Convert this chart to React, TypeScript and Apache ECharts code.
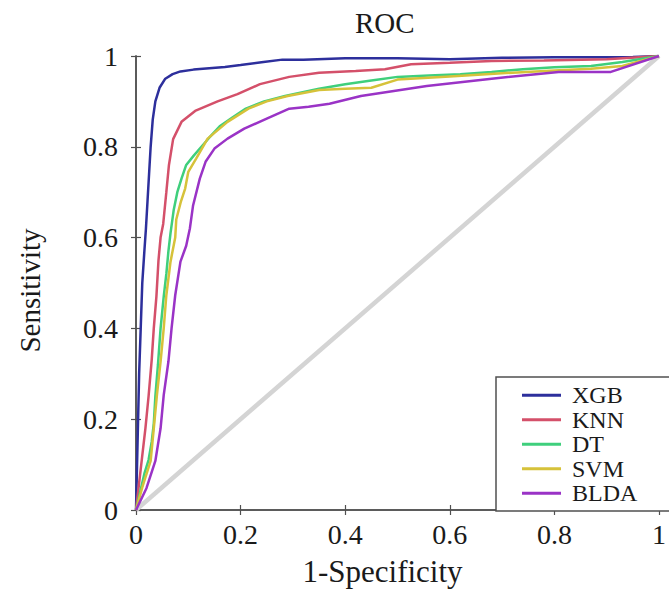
import React, { useEffect, useRef } from "react";
import * as echarts from "echarts";

const seriesNames = ["XGB", "KNN", "DT", "SVM", "BLDA"];
const seriesColors = ["#2d2f9c", "#d4506a", "#3fcf7c", "#d6c23a", "#9a33c6"];

const xgbX = [0, 0.002, 0.004, 0.006, 0.009, 0.012, 0.016, 0.019, 0.022, 0.025, 0.028, 0.032, 0.037, 0.045, 0.056, 0.07, 0.085, 0.11, 0.14, 0.17, 0.2, 0.24, 0.28, 0.32, 0.4, 0.5, 0.6, 0.7, 0.8, 0.9, 0.95, 1];
const xgbY = [0, 0.1, 0.2, 0.3, 0.4, 0.5, 0.57, 0.62, 0.68, 0.74, 0.8, 0.86, 0.9, 0.93, 0.95, 0.96, 0.966, 0.97, 0.973, 0.976, 0.98, 0.986, 0.992, 0.992, 0.995, 0.995, 0.993, 0.996, 0.997, 0.997, 0.998, 1];

const knnX = [0, 0.005, 0.011, 0.018, 0.024, 0.03, 0.034, 0.039, 0.043, 0.047, 0.052, 0.058, 0.063, 0.071, 0.087, 0.113, 0.156, 0.194, 0.237, 0.293, 0.35, 0.42, 0.476, 0.526, 0.6, 0.68, 0.78, 0.9, 1];
const knnY = [0, 0.05, 0.11, 0.18, 0.25, 0.33, 0.4, 0.47, 0.55, 0.6, 0.63, 0.7, 0.76, 0.817, 0.855, 0.879, 0.9, 0.916, 0.938, 0.954, 0.963, 0.967, 0.971, 0.982, 0.985, 0.989, 0.99, 0.993, 1];

const dtX = [0, 0.008, 0.016, 0.024, 0.03, 0.034, 0.037, 0.042, 0.047, 0.053, 0.058, 0.062, 0.066, 0.072, 0.079, 0.087, 0.096, 0.11, 0.125, 0.14, 0.16, 0.185, 0.21, 0.245, 0.285, 0.35, 0.4, 0.45, 0.5, 0.56, 0.62, 0.68, 0.74, 0.8, 0.87, 0.93, 1];
const dtY = [0, 0.04, 0.08, 0.11, 0.15, 0.19, 0.25, 0.32, 0.4, 0.47, 0.52, 0.57, 0.61, 0.66, 0.7, 0.73, 0.76, 0.78, 0.8, 0.82, 0.845, 0.865, 0.884, 0.9, 0.912, 0.928, 0.938, 0.946, 0.954, 0.957, 0.96, 0.965, 0.971, 0.975, 0.978, 0.987, 1];

const svmX = [0, 0.012, 0.028, 0.034, 0.04, 0.047, 0.053, 0.058, 0.066, 0.075, 0.077, 0.086, 0.094, 0.1, 0.115, 0.137, 0.175, 0.215, 0.25, 0.29, 0.35, 0.4, 0.45, 0.5, 0.6, 0.7, 0.8, 0.87, 0.93, 1];
const svmY = [0, 0.05, 0.108, 0.18, 0.253, 0.327, 0.4, 0.473, 0.547, 0.6, 0.64, 0.68, 0.708, 0.745, 0.774, 0.818, 0.855, 0.884, 0.9, 0.912, 0.925, 0.928, 0.93, 0.948, 0.955, 0.962, 0.968, 0.972, 0.978, 1];

const bldaX = [0, 0.02, 0.037, 0.047, 0.053, 0.062, 0.068, 0.075, 0.085, 0.096, 0.103, 0.109, 0.122, 0.133, 0.15, 0.175, 0.207, 0.25, 0.293, 0.33, 0.37, 0.43, 0.556, 0.68, 0.808, 0.908, 1];
const bldaY = [0, 0.048, 0.108, 0.18, 0.253, 0.327, 0.4, 0.473, 0.547, 0.582, 0.62, 0.67, 0.73, 0.767, 0.796, 0.818, 0.84, 0.862, 0.884, 0.888, 0.895, 0.912, 0.934, 0.95, 0.965, 0.965, 1];

const diagonalX = [0, 1];
const diagonalY = [0, 1];

const xTicks = [0, 0.2, 0.4, 0.6, 0.8, 1];
const yTicks = [0, 0.2, 0.4, 0.6, 0.8, 1];

const allX = [xgbX, knnX, dtX, svmX, bldaX];
const allY = [xgbY, knnY, dtY, svmY, bldaY];

const FONT = "Liberation Serif";
const TEXT = "#1a1a1a";

function pairs(xs: number[], ys: number[]) {
  return xs.map((x, i) => [x, ys[i]]);
}

function fmt(v: number) {
  return String(Math.round(v * 10) / 10);
}

export default function App() {
  const ref = useRef<HTMLDivElement>(null);
  useEffect(() => {
    if (!ref.current) return;
    const chart = echarts.init(ref.current, null, { renderer: "svg" });
    const axisLine = { show: true, lineStyle: { color: "#505050", width: 1.5 } };
    const axisTick = { show: true, inside: true, length: 5, lineStyle: { color: "#505050", width: 1.2 } };
    const option: any = {
      animation: false,
      backgroundColor: "#ffffff",
      title: {
        text: "ROC",
        left: 350,
        top: 3,
        textStyle: { fontFamily: FONT, fontSize: 29, fontWeight: "normal", color: TEXT },
      },
      grid: { left: 136, right: 2, top: 56, bottom: 81 },
      xAxis: [
        {
          type: "value",
          min: 0,
          max: 1,
          interval: 0.2,
          position: "bottom",
          name: "1-Specificity",
          nameLocation: "middle",
          nameGap: 46,
          nameTextStyle: { fontFamily: FONT, fontSize: 31, color: TEXT, padding: [0, 30, 0, 0] },
          axisLine,
          axisTick,
          splitLine: { show: false },
          axisLabel: {
            fontFamily: FONT,
            fontSize: 28,
            color: TEXT,
            margin: 10,
            formatter: (v: number) => (xTicks.some((t) => Math.abs(t - v) < 1e-6) ? fmt(v) : ""),
          },
        },
        {
          type: "value",
          min: 0,
          max: 1,
          interval: 0.2,
          position: "top",
          axisLine,
          axisTick,
          splitLine: { show: false },
          axisLabel: { show: false },
        },
      ],
      yAxis: [
        {
          type: "value",
          min: 0,
          max: 1,
          interval: 0.2,
          position: "left",
          name: "Sensitivity",
          nameLocation: "middle",
          nameGap: 92,
          nameRotate: 90,
          nameTextStyle: { fontFamily: FONT, fontSize: 29, color: TEXT, padding: [0, 15, 0, 0] },
          axisLine,
          axisTick,
          splitLine: { show: false },
          axisLabel: {
            fontFamily: FONT,
            fontSize: 28,
            color: TEXT,
            margin: 18,
            formatter: (v: number) => (yTicks.some((t) => Math.abs(t - v) < 1e-6) ? fmt(v) : ""),
          },
        },
        {
          type: "value",
          min: 0,
          max: 1,
          interval: 0.2,
          position: "right",
          axisLine,
          axisTick,
          splitLine: { show: false },
          axisLabel: { show: false },
        },
      ],
      graphic: [
        {
          type: "rect",
          z: 3,
          shape: { x: 496, y: 377, width: 200, height: 134 },
          style: { fill: "#ffffff", stroke: "#505050", lineWidth: 1.5 },
        },
      ],
      legend: {
        data: seriesNames,
        orient: "vertical",
        left: 522,
        top: 383,
        padding: 0,
        itemGap: 0,
        itemWidth: 39,
        itemHeight: 3,
        icon: "rect",
        z: 5,
        textStyle: { fontFamily: FONT, fontSize: 24, color: TEXT, lineHeight: 24.5, padding: [0, 0, 0, 6] },
      },
      series: [
        {
          name: "diag",
          type: "line",
          data: pairs(diagonalX, diagonalY),
          symbol: "none",
          lineStyle: { color: "#d4d4d4", width: 4.5 },
          z: 1,
          silent: true,
        },
        ...seriesNames.map((n, i) => ({
          name: n,
          type: "line",
          data: pairs(allX[i], allY[i]),
          symbol: "none",
          color: seriesColors[i],
          lineStyle: { color: seriesColors[i], width: 2.5 },
          z: 2,
        })),
      ],
    };
    chart.setOption(option);
    return () => chart.dispose();
  }, []);
  return (
    <div
      ref={ref}
      style={{ position: "fixed", left: 0, top: 0, width: 669, height: 592, background: "#fff" }}
    />
  );
}
